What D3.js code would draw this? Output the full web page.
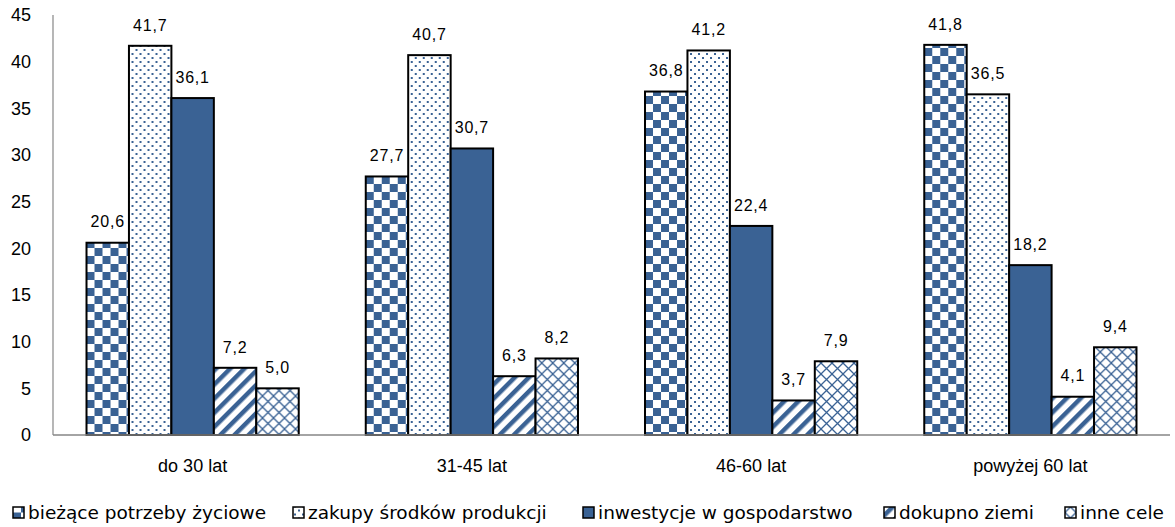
<!DOCTYPE html>
<html>
<head>
<meta charset="utf-8">
<script src="https://cdn.jsdelivr.net/npm/d3@7"></script>
<style>
  body { margin: 0; background: #fff; }
  text { font-family: 'Liberation Sans', Arial, sans-serif; }
</style>
</head>
<body>
<div id="chart"></div>
<script>
const categories = ['do 30 lat', '31-45 lat', '46-60 lat', 'powyżej 60 lat']
const seriesNames = [
  'bieżące potrzeby życiowe',
  'zakupy środków produkcji',
  'inwestycje w gospodarstwo',
  'dokupno ziemi',
  'inne cele',
]
const biezace = [20.6, 27.7, 36.8, 41.8]
const zakupy = [41.7, 40.7, 41.2, 36.5]
const inwestycje = [36.1, 30.7, 22.4, 18.2]
const dokupno = [7.2, 6.3, 3.7, 4.1]
const inne = [5.0, 8.2, 7.9, 9.4]
const yTicks = [0, 5, 10, 15, 20, 25, 30, 35, 40, 45]

const series = [biezace, zakupy, inwestycje, dokupno, inne]
const BLUE = '#3a6294'
const fills = ['url(#checker)', 'url(#dots)', BLUE, 'url(#stripes)', 'url(#hatch)']

const WIDTH = 1175
const HEIGHT = 527
const MARGIN = { LEFT: 53, RIGHT: 5, TOP: 15, BOTTOM: 92 }

const svg = d3.select('#chart').append('svg')
  .attr('width', WIDTH)
  .attr('height', HEIGHT)

// patterns
const defs = svg.append('defs')

let checker = defs.append('pattern').attr('id', 'checker')
  .attr('patternUnits', 'userSpaceOnUse').attr('width', 16).attr('height', 16)
checker.append('rect').attr('width', 16).attr('height', 16).attr('fill', '#fff')
checker.append('rect').attr('width', 8).attr('height', 8).attr('fill', BLUE)
checker.append('rect').attr('x', 8).attr('y', 8).attr('width', 8).attr('height', 8).attr('fill', BLUE)

let dots = defs.append('pattern').attr('id', 'dots')
  .attr('patternUnits', 'userSpaceOnUse').attr('width', 8).attr('height', 8)
dots.append('rect').attr('width', 8).attr('height', 8).attr('fill', '#fff')
dots.append('rect').attr('x', 1).attr('y', 1).attr('width', 2).attr('height', 2).attr('fill', BLUE)
dots.append('rect').attr('x', 5).attr('y', 5).attr('width', 2).attr('height', 2).attr('fill', BLUE)

let stripes = defs.append('pattern').attr('id', 'stripes')
  .attr('patternUnits', 'userSpaceOnUse').attr('width', 10).attr('height', 10)
  .attr('patternTransform', 'rotate(45)')
stripes.append('rect').attr('width', 10).attr('height', 10).attr('fill', '#fff')
stripes.append('rect').attr('width', 4.5).attr('height', 10).attr('fill', BLUE)

let hatch = defs.append('pattern').attr('id', 'hatch')
  .attr('patternUnits', 'userSpaceOnUse').attr('width', 11).attr('height', 11)
hatch.append('rect').attr('width', 11).attr('height', 11).attr('fill', '#fff')
hatch.append('path').attr('d', 'M0,0L11,11M11,0L0,11')
  .attr('stroke', BLUE).attr('stroke-width', 1.3).attr('fill', 'none')

const x0 = d3.scaleBand()
  .domain(categories)
  .range([MARGIN.LEFT, WIDTH - MARGIN.RIGHT])
  .paddingInner(0.24)
  .paddingOuter(0.12)

const x1 = d3.scaleBand()
  .domain(d3.range(series.length))
  .range([0, x0.bandwidth()])

const y = d3.scaleLinear()
  .domain([0, 45])
  .range([HEIGHT - MARGIN.BOTTOM, MARGIN.TOP])

// y axis labels
svg.append('g').selectAll('text')
  .data(yTicks)
  .join('text')
  .attr('x', 31)
  .attr('y', d => y(d))
  .attr('dy', '0.36em')
  .attr('text-anchor', 'end')
  .style('font-size', '18px')
  .style('fill', '#000')
  .text(d => d)

// bars
const groups = svg.append('g').selectAll('g')
  .data(categories)
  .join('g')
  .attr('transform', c => `translate(${x0(c)},0)`)

groups.selectAll('rect')
  .data((c, ci) => series.map((s, si) => ({ si, v: s[ci] })))
  .join('rect')
  .attr('x', d => x1(d.si))
  .attr('y', d => y(d.v))
  .attr('width', x1.bandwidth())
  .attr('height', d => y(0) - y(d.v))
  .attr('fill', d => fills[d.si])
  .attr('stroke', '#000')
  .attr('stroke-width', 2)

groups.selectAll('text.val')
  .data((c, ci) => series.map((s, si) => ({ si, v: s[ci] })))
  .join('text')
  .attr('class', 'val')
  .attr('x', d => x1(d.si) + x1.bandwidth() / 2)
  .attr('y', d => Math.max(y(d.v) - 21, 14))
  .attr('dy', '0.36em')
  .attr('text-anchor', 'middle')
  .style('font-size', '16px')
  .style('letter-spacing', '0.8px')
  .style('fill', '#000')
  .text(d => d.v.toFixed(1).replace('.', ','))

// axes lines
svg.append('line')
  .attr('x1', MARGIN.LEFT).attr('x2', MARGIN.LEFT)
  .attr('y1', y(45)).attr('y2', y(0))
  .attr('stroke', '#868686').attr('stroke-width', 1.2)
svg.append('line')
  .attr('x1', MARGIN.LEFT).attr('x2', WIDTH - MARGIN.RIGHT)
  .attr('y1', y(0)).attr('y2', y(0))
  .attr('stroke', '#868686').attr('stroke-width', 1.5)

// category labels
svg.append('g').selectAll('text')
  .data(categories)
  .join('text')
  .attr('x', c => x0(c) + x0.bandwidth() / 2)
  .attr('y', y(0) + 31)
  .attr('dy', '0.36em')
  .attr('text-anchor', 'middle')
  .style('font-size', '18px')
  .style('fill', '#000')
  .text(c => c)

// legend
const legendX = [13, 293, 583, 884, 1065]
const legendY = 512.5
const lg = svg.append('g').selectAll('g')
  .data(seriesNames)
  .join('g')
  .attr('transform', (d, i) => `translate(${legendX[i]},${legendY})`)
lg.append('rect')
  .attr('x', 0).attr('y', -5.5)
  .attr('width', 11).attr('height', 11)
  .attr('fill', (d, i) => fills[i])
  .attr('stroke', '#000').attr('stroke-width', 1.5)
lg.append('text')
  .attr('x', 15)
  .attr('dy', '0.36em')
  .style('font-family', "'DejaVu Sans', sans-serif")
  .style('font-size', '18.5px')
  .style('fill', '#000')
  .text(d => d)
</script>
</body>
</html>
